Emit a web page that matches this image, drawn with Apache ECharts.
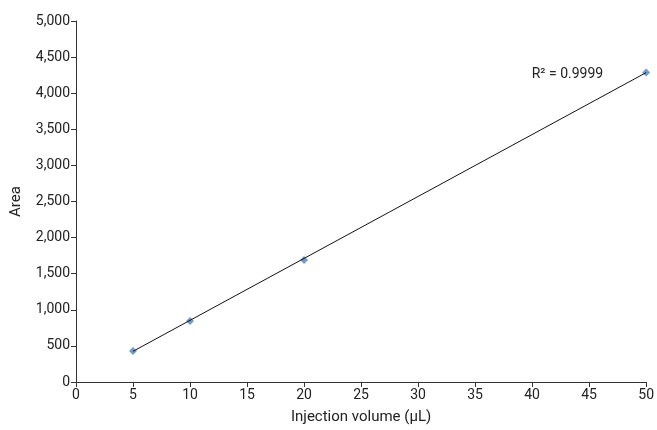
<!DOCTYPE html>
<html><head><meta charset="utf-8">
<script src="https://cdn.jsdelivr.net/npm/echarts@6/dist/echarts.min.js"></script>
<style>html,body{margin:0;background:#fff}#c{width:657px;height:430px}</style>
</head><body><div id="c"></div>
<script>
// Calibration data
const injectionVolumes = [5, 10, 20, 50];
const areas = [430, 845, 1690, 4285];
const trendStart = [5, 425];
const trendEnd = [50, 4285];
const r2Label = "R² = 0.9999";

const font = "'Liberation Sans Narrow', 'Roboto', sans-serif";
const chart = echarts.init(document.getElementById("c"));
chart.setOption({
    animation: false,
    grid: { left: 76, right: 10, top: 21, bottom: 48 },
    xAxis: {
        type: "value", min: 0, max: 50, interval: 5,
        name: "Injection volume (µL)", nameLocation: "middle", nameGap: 28,
        nameTextStyle: { color: "#222", fontSize: 15, fontFamily: font },
        axisLine: { lineStyle: { color: "#333" } },
        axisTick: { show: true, length: 5, lineStyle: { color: "#333" } },
        axisLabel: { color: "#222", fontSize: 14, fontFamily: font, margin: 6 },
        splitLine: { show: false }
    },
    yAxis: {
        type: "value", min: 0, max: 5000, interval: 500,
        name: "Area", nameLocation: "middle", nameGap: 52,
        nameTextStyle: { color: "#222", fontSize: 15, fontFamily: font },
        axisLine: { show: true, lineStyle: { color: "#333" } },
        axisTick: { show: true, length: 5, lineStyle: { color: "#333" } },
        axisLabel: {
            color: "#222", fontSize: 14, fontFamily: font, margin: 6,
            formatter: v => v.toLocaleString("en-US")
        },
        splitLine: { show: false }
    },
    series: [
        {
            type: "line", symbol: "none", silent: true,
            data: [trendStart, trendEnd],
            lineStyle: { color: "#111", width: 1 },
            markPoint: {
                symbol: "rect", symbolSize: 0,
                data: [{ coord: [43.1, 4260] }],
                label: { show: true, formatter: r2Label, color: "#222", fontSize: 14, fontFamily: font }
            }
        },
        {
            type: "scatter", symbol: "diamond", symbolSize: 8,
            data: injectionVolumes.map((x, i) => [x, areas[i]]),
            itemStyle: { color: "#4f81bd" }
        }
    ]
});
</script></body></html>
